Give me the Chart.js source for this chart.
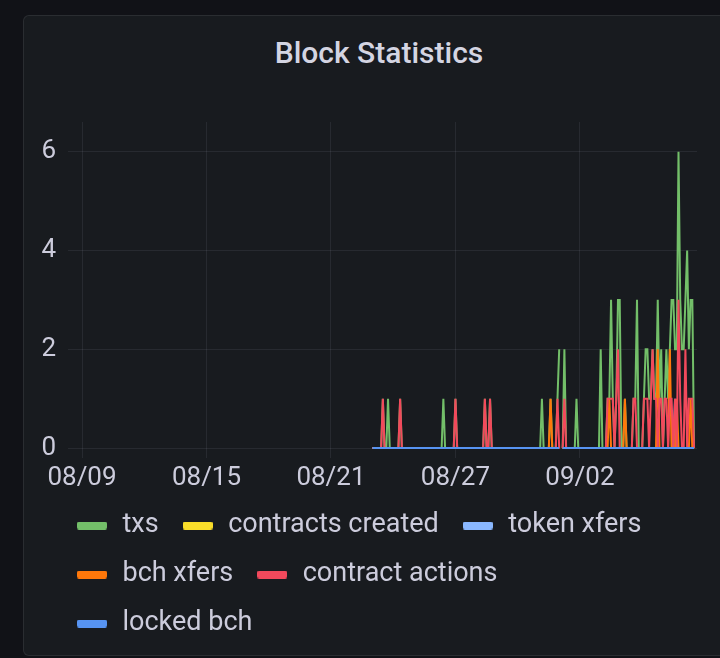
<!DOCTYPE html>
<html>
<head>
<meta charset="utf-8">
<title>Block Statistics</title>
<script src="https://cdn.jsdelivr.net/npm/chart.js@4.4.1/dist/chart.umd.min.js"></script>
<style>
  html, body { margin: 0; padding: 0; width: 720px; height: 658px; overflow: hidden; background: #111217; }
  #panel {
    position: absolute; left: 23px; top: 15px; width: 712px; height: 641px;
    box-sizing: border-box; background: #181b1f;
    border: 1px solid rgba(204, 204, 220, 0.1); border-radius: 6px;
  }
  #title {
    position: absolute; left: 23px; top: 35px; width: 712px; line-height: 36px;
    text-align: center; font: 500 30px Roboto, sans-serif; color: #d4d5e2;
  }
  #chart { position: absolute; left: 23px; top: 15px; }
</style>
</head>
<body>
<div id="panel"></div>
<div id="title">Block Statistics</div>
<canvas id="chart" width="712" height="643"></canvas>
<script>
// time axis: hours since 08/09 00:00, one sample every 2 hours from 08/23 00:00
const startHour = 336;
const stepHours = 2;
const tickHours = [0, 144, 288, 432, 576];
const tickLabels = ['08/09', '08/15', '08/21', '08/27', '09/02'];
const yTicks = [0, 2, 4, 6];

const seriesNames = ['txs', 'contracts created', 'token xfers', 'bch xfers', 'contract actions', 'locked bch'];
const seriesColors = ['#73bf69', '#fade2a', '#8ab8ff', '#ff780a', '#f2495c', '#5794f2'];

// one line per day (12 samples), null = missing sample
const txs = [
  0,0,0,0,0,0,1,0,0,1,0,0,
  0,0,0,0,1,0,0,0,0,0,0,0,
  0,0,0,0,0,0,0,0,0,0,0,0,
  0,0,0,0,0,1,0,0,0,0,0,0,
  1,0,0,0,0,0,0,0,0,0,0,0,
  0,0,0,0,0,1,0,0,1,0,0,0,
  0,0,0,0,0,0,0,0,0,0,0,0,
  0,0,0,0,0,0,0,0,0,0,0,0,
  0,0,1,0,0,0,0,1,0,0,0,1,
  2,null,0,2,0,0,0,0,0,0,1,0,
  0,0,0,0,0,0,0,0,0,0,0,0,
  2,0,0,0,1,1,3,1,0,1,3,3,
  0,0,1,0,0,0,0,1,1,3,0,0,
  0,1,2,2,1,1,2,1,1,3,1,2,
  0,1,2,1,2,3,3,2,2,6,3,2,
  2,3,4,2,3,3,0
];
const contractsCreated = [
  0,0,0,0,0,0,0,0,0,0,0,0,
  0,0,0,0,0,0,0,0,0,0,0,0,
  0,0,0,0,0,0,0,0,0,0,0,0,
  0,0,0,0,0,0,0,0,0,0,0,0,
  0,0,0,0,0,0,0,0,0,0,0,0,
  0,0,0,0,0,0,0,0,0,0,0,0,
  0,0,0,0,0,0,0,0,0,0,0,0,
  0,0,0,0,0,0,0,0,0,0,0,0,
  0,0,0,0,0,0,0,0,0,0,0,0,
  0,null,0,0,0,0,0,0,0,0,0,0,
  0,0,0,0,0,0,0,0,0,0,0,0,
  0,0,0,0,0,0,0,0,0,0,0,0,
  0,0,0,0,0,0,0,0,0,0,0,0,
  0,0,0,0,0,0,0,0,0,0,0,0,
  0,0,0,0,0,0,0,0,0,0,0,0,
  0,0,0,0,0,0,0
];
const tokenXfers = [
  0,0,0,0,0,0,0,0,0,0,0,0,
  0,0,0,0,0,0,0,0,0,0,0,0,
  0,0,0,0,0,0,0,0,0,0,0,0,
  0,0,0,0,0,0,0,0,0,0,0,0,
  0,0,0,0,0,0,0,0,0,0,0,0,
  0,0,0,0,0,0,0,0,0,0,0,0,
  0,0,0,0,0,0,0,0,0,0,0,0,
  0,0,0,0,0,0,0,0,0,0,0,0,
  0,0,0,0,0,0,0,0,0,0,0,0,
  0,null,0,0,0,0,0,0,0,0,0,0,
  0,0,0,0,0,0,0,0,0,0,0,0,
  0,0,0,0,0,0,0,0,0,0,0,0,
  0,0,0,0,0,0,0,0,0,0,0,0,
  0,0,0,0,0,0,0,0,0,0,0,0,
  0,0,0,0,0,0,0,1,0,0,0,0,
  0,0,0,0,0,0,0
];
const bchXfers = [
  0,0,0,0,0,0,0,0,0,0,0,0,
  0,0,0,0,0,0,0,0,0,0,0,0,
  0,0,0,0,0,0,0,0,0,0,0,0,
  0,0,0,0,0,0,0,0,0,0,0,0,
  0,0,0,0,0,0,0,0,0,0,0,0,
  0,0,0,0,0,0,0,0,0,0,0,0,
  0,0,0,0,0,0,0,0,0,0,0,0,
  0,0,0,0,0,0,0,0,0,0,0,0,
  0,0,0,0,0,0,0,1,0,0,0,0,
  0,null,0,0,0,0,0,0,0,0,0,0,
  0,0,0,0,0,0,0,0,0,0,0,0,
  0,0,0,0,0,1,0,0,0,0,0,0,
  0,0,1,0,0,0,0,0,0,0,0,0,
  0,0,0,0,0,0,0,0,0,2,0,0,
  0,0,0,0,2,0,0,0,1,0,0,0,
  0,0,0,0,1,0,0
];
const contractActions = [
  0,0,0,0,0,0,1,0,0,0,0,0,
  0,0,0,0,1,0,0,0,0,0,0,0,
  0,0,0,0,0,0,0,0,0,0,0,0,
  0,0,0,0,0,0,0,0,0,0,0,0,
  1,0,0,0,0,0,0,0,0,0,0,0,
  0,0,0,0,0,1,0,0,1,0,0,0,
  0,0,0,0,0,0,0,0,0,0,0,0,
  0,0,0,0,0,0,0,0,0,0,0,0,
  0,0,0,0,0,0,0,0,0,0,0,1,
  0,null,0,1,0,0,0,0,0,0,0,0,
  0,0,0,0,0,0,0,0,0,0,0,0,
  0,0,0,0,1,1,1,1,0,1,2,0,
  0,0,0,0,0,0,0,1,1,0,0,0,
  0,1,1,1,0,1,2,1,1,0,1,1,
  0,1,1,0,1,1,0,1,0,3,1,0,
  0,2,0,1,1,1,0
];
const lockedBch = [
  0,0,0,0,0,0,0,0,0,0,0,0,
  0,0,0,0,0,0,0,0,0,0,0,0,
  0,0,0,0,0,0,0,0,0,0,0,0,
  0,0,0,0,0,0,0,0,0,0,0,0,
  0,0,0,0,0,0,0,0,0,0,0,0,
  0,0,0,0,0,0,0,0,0,0,0,0,
  0,0,0,0,0,0,0,0,0,0,0,0,
  0,0,0,0,0,0,0,0,0,0,0,0,
  0,0,0,0,0,0,0,0,0,0,0,0,
  0,null,0,0,0,0,0,0,0,0,0,0,
  0,0,0,0,0,0,0,0,0,0,0,0,
  0,0,0,0,0,0,0,0,0,0,0,0,
  0,0,0,0,0,0,0,0,0,0,0,0,
  0,0,0,0,0,0,0,0,0,0,0,0,
  0,0,0,0,0,0,0,0,0,0,0,0,
  0,0,0,0,0,0,0
];

const seriesValues = [txs, contractsCreated, tokenXfers, bchXfers, contractActions, lockedBch];

const textColor = '#ccccdc';
const gridColor = 'rgba(204, 204, 220, 0.09)';
const tickFont = { family: 'Roboto', size: 26 };
const legendFont = { family: 'Roboto', size: 27 };

// rounded legend swatch like grafana
function swatch(color) {
  const c = document.createElement('canvas');
  c.width = 30;
  c.height = 8;
  const g = c.getContext('2d');
  g.fillStyle = color;
  g.beginPath();
  g.roundRect(0, 0, 30, 8, 2);
  g.fill();
  return c;
}

const datasets = seriesNames.map((name, k) => ({
  label: name,
  data: seriesValues[k].map((v, i) => ({ x: startHour + i * stepHours, y: v })),
  borderColor: seriesColors[k],
  backgroundColor: seriesColors[k],
  borderWidth: 2,
  pointRadius: 0,
  pointStyle: swatch(seriesColors[k]),
  tension: 0,
  fill: false,
  spanGaps: false,
  // later series on top, as in grafana
  order: seriesNames.length - 1 - k
}));

Chart.defaults.font.family = 'Roboto';

new Chart(document.getElementById('chart').getContext('2d'), {
  type: 'line',
  data: { datasets },
  options: {
    responsive: false,
    animation: false,
    layout: { padding: { left: 30, right: 38, top: 107, bottom: 11 } },
    plugins: {
      tooltip: { enabled: false },
      legend: {
        position: 'bottom',
        align: 'start',
        labels: {
          usePointStyle: true,
          pointStyleWidth: 34,
          color: textColor,
          font: legendFont,
          padding: 22,
          sort: (a, b) => a.datasetIndex - b.datasetIndex
        }
      }
    },
    scales: {
      x: {
        type: 'linear',
        min: -16.2,
        max: 711.4,
        grid: { color: gridColor, drawTicks: false },
        border: { display: false },
        afterBuildTicks: (scale) => { scale.ticks = tickHours.map(v => ({ value: v })); },
        ticks: {
          autoSkip: false,
          maxRotation: 0,
          padding: 5,
          color: textColor,
          font: tickFont,
          callback: (value) => {
            const k = tickHours.indexOf(value);
            return k >= 0 ? tickLabels[k] : '';
          }
        },
        afterFit: (scale) => { scale.height = 32; }
      },
      y: {
        min: -0.2,
        max: 6.6,
        grid: { color: gridColor, drawTicks: false },
        border: { display: false },
        afterBuildTicks: (scale) => { scale.ticks = yTicks.map(v => ({ value: v })); },
        ticks: {
          // mirrored with a negative padding so the labels sit left of the plot unclipped
          mirror: true,
          padding: -26.5,
          color: textColor,
          font: tickFont
        },
        afterFit: (scale) => { scale.width = 15; }
      }
    }
  }
});
</script>
</body>
</html>
